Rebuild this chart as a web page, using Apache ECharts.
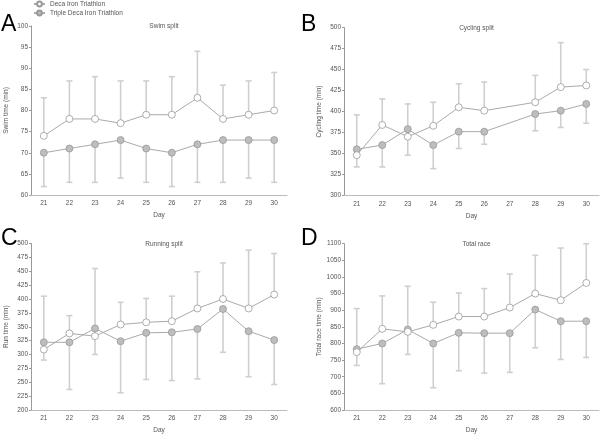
<!DOCTYPE html>
<html><head><meta charset="utf-8">
<script src="https://cdn.jsdelivr.net/npm/echarts@6/dist/echarts.min.js"></script>
<style>html,body{margin:0;padding:0;background:#fff}#c{width:600px;height:435px}</style>
</head><body><div id="c"></div>
<script>
const days = ['21','22','23','24','25','26','27','28','29','30'];
const seriesNames = ['Deca Iron Triathlon','Triple Deca Iron Triathlon'];

const swimDeca = [74,78,78,77,79,79,83,78,79,80];
const swimDecaUpper = [83,87,88,87,87,88,94,86,87,89];
const swimTriple = [70,71,72,73,71,70,72,73,73,73];
const swimTripleLower = [62,63,63,64,63,62,63,63,64,63];

const cycleDeca = [348,384,370,383,405,401,null,411,429,431];
const cycleDecaUpper = [396,415,409,411,433,435,null,443,482,450];
const cycleTriple = [355,360,379,360,376,376,null,397,401,409];
const cycleTripleLower = [334,334,348,332,356,361,null,377,381,386];

const runDeca = [309,338,333,354,358,360,383,400,383,408];
const runDecaUpper = [405,370,455,394,401,405,449,465,488,482];
const runTriple = [322,322,347,324,339,340,346,382,342,326];
const runTripleLower = [290,237,300,231,255,253,256,304,260,246];

const totalDeca = [774,844,835,856,881,881,908,950,930,982];
const totalDecaUpper = [905,943,972,924,952,965,1009,1065,1087,1100];
const totalTriple = [783,800,842,800,832,831,831,902,867,867];
const totalTripleLower = [734,679,767,667,718,711,713,787,752,758];

const panels = [
  {letter:'A', title:'Swim split', yName:'Swim time (min)', min:60, max:100, interval:5,
   deca:swimDeca, decaErr:swimDecaUpper, triple:swimTriple, tripleErr:swimTripleLower,
   grid:{left:31, top:26, width:256, height:169}},
  {letter:'B', title:'Cycling split', yName:'Cycling time (min)', min:300, max:500, interval:25,
   deca:cycleDeca, decaErr:cycleDecaUpper, triple:cycleTriple, tripleErr:cycleTripleLower,
   grid:{left:344, top:27.5, width:255, height:168}},
  {letter:'C', title:'Running split', yName:'Run time (min)', min:200, max:500, interval:25,
   deca:runDeca, decaErr:runDecaUpper, triple:runTriple, tripleErr:runTripleLower,
   grid:{left:31, top:243.5, width:256, height:169.5}},
  {letter:'D', title:'Total race', yName:'Total race time (min)', min:600, max:1100, interval:50,
   deca:totalDeca, decaErr:totalDecaUpper, triple:totalTriple, tripleErr:totalTripleLower,
   grid:{left:344, top:243.7, width:255, height:169}}
];

const FONT = 'Liberation Sans';
const TXT = '#555';
const AX = '#999';

function errData(vals, errs){
  const out = [];
  vals.forEach((v,i)=>{ if(v!=null && errs[i]!=null) out.push([i, v, errs[i]]); });
  return out;
}
function renderErr(params, api){
  const p = api.coord([api.value(0), api.value(1)]);
  const e = api.coord([api.value(0), api.value(2)]);
  const st = {stroke:'#cfcfcf', lineWidth:1.6};
  return {type:'group', children:[
    {type:'line', shape:{x1:p[0],y1:p[1],x2:e[0],y2:e[1]}, style:st},
    {type:'line', shape:{x1:e[0]-3,y1:e[1],x2:e[0]+3,y2:e[1]}, style:st}
  ]};
}

const grids=[], xAxes=[], yAxes=[], series=[], titles=[], graphics=[];
panels.forEach((p,k)=>{
  grids.push(p.grid);
  xAxes.push({type:'category', gridIndex:k, data:days, boundaryGap:true,
    name:'Day', nameLocation:'middle', nameGap:17,
    nameTextStyle:{fontFamily:FONT, fontSize:6.5, color:TXT},
    axisLine:{lineStyle:{color:'#bbb', width:1}},
    axisTick:{alignWithLabel:true, length:2, lineStyle:{color:'#bbb'}},
    axisLabel:{fontFamily:FONT, fontSize:6.5, color:TXT, margin:5},
    splitLine:{show:false}});
  yAxes.push({type:'value', gridIndex:k, min:p.min, max:p.max, interval:p.interval,
    name:p.yName, nameLocation:'middle', nameGap:21,
    nameTextStyle:{fontFamily:FONT, fontSize:6.5, color:TXT},
    axisLine:{show:true, lineStyle:{color:AX, width:1}},
    axisTick:{show:true, length:2, lineStyle:{color:AX}},
    axisLabel:{fontFamily:FONT, fontSize:6.5, color:TXT, margin:3, formatter:(v)=>String(v)},
    splitLine:{show:false}});
  titles.push({text:p.title, left:p.grid.left + p.grid.width/2, top:p.grid.top - 8,
    textAlign:'center',
    textStyle:{fontFamily:FONT, fontSize:6.5, fontWeight:'normal', color:TXT}});
  graphics.push({type:'text', left:(k%2===0)?1:301, top:(k<2)?13:227,
    style:{text:p.letter, fontFamily:FONT, fontSize:23, fill:'#000'}});
  series.push({type:'custom', xAxisIndex:k, yAxisIndex:k, renderItem:renderErr,
    encode:{x:0,y:[1,2]}, data:errData(p.deca, p.decaErr), z:1, silent:true});
  series.push({type:'custom', xAxisIndex:k, yAxisIndex:k, renderItem:renderErr,
    encode:{x:0,y:[1,2]}, data:errData(p.triple, p.tripleErr), z:1, silent:true});
  series.push({name:seriesNames[0], type:'line', xAxisIndex:k, yAxisIndex:k, data:p.deca,
    connectNulls:true, symbol:'circle', symbolSize:7, z:3,
    lineStyle:{color:'#aaa', width:1},
    itemStyle:{color:'#fff', borderColor:'#999', borderWidth:0.8}});
  series.push({name:seriesNames[1], type:'line', xAxisIndex:k, yAxisIndex:k, data:p.triple,
    connectNulls:true, symbol:'circle', symbolSize:7, z:2,
    lineStyle:{color:'#aaa', width:1},
    itemStyle:{color:'#bdbdbd', borderColor:'#999', borderWidth:0.8}});
});

const chart = echarts.init(document.getElementById('c'), null, {renderer:'canvas'});
chart.setOption({
  animation:false,
  backgroundColor:'#fff',
  title:titles,
  legend:{data:seriesNames, orient:'vertical', left:33, top:0.5, itemGap:2,
    itemWidth:11, itemHeight:6, padding:[0,0,0,0],
    textStyle:{fontFamily:FONT, fontSize:6.5, color:TXT}},
  grid:grids, xAxis:xAxes, yAxis:yAxes, series:series, graphic:graphics
});
</script></body></html>
